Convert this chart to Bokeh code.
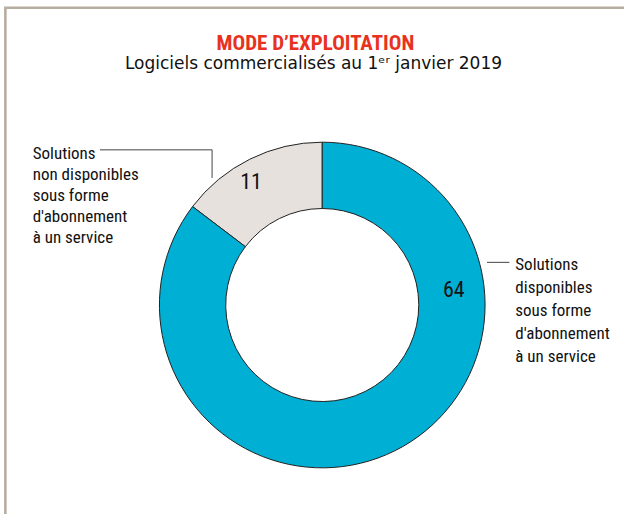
import numpy as np
from bokeh.plotting import figure
from bokeh.models import Range1d, ColumnDataSource
from bokeh.core.properties import value
from bokeh.embed import file_html
from bokeh.resources import INLINE

# ---- data ----
title = "MODE D’EXPLOITATION"
subtitle = "Logiciels commercialisés au 1ᵉʳ janvier 2019"
categories = ["Solutions non disponibles sous forme d'abonnement à un service",
              "Solutions disponibles sous forme d'abonnement à un service"]
values = [11, 64]
colors = ["#e6e1dc", "#00afd4"]
label_left = ["Solutions", "non disponibles", "sous forme", "d'abonnement", "à un service"]
label_right = ["Solutions", "disponibles", "sous forme", "d'abonnement", "à un service"]

# ---- layout (data units = reference-image pixels, y flipped) ----
RW, RH = 640, 530
def Y(y):
    return RH - y

CX, CY = 330, Y(314)
R_IN, R_OUT = 99, 167
NARROW = value("Roboto Condensed, DejaVu Sans Condensed, sans-serif")

p = figure(width=624, height=514,
           x_range=Range1d(0, RW), y_range=Range1d(0, RH),
           output_backend="svg", toolbar_location=None, min_border=0)
p.axis.visible = False
p.grid.visible = False
p.outline_line_color = None
p.background_fill_color = "white"
p.border_fill_color = "white"

# frame border (top + left)
p.line(x=[5, 5, RW + 5], y=[Y(RH + 5), Y(7.5), Y(7.5)], line_color="#b7ada1",
       line_width=2.6, line_join="miter")

# donut
vals = np.array(values, dtype=float)
frac = vals / vals.sum()
ang = 2 * np.pi * frac
starts = np.pi / 2 + np.concatenate([[0], np.cumsum(ang)[:-1]])
ends = starts + ang
src = ColumnDataSource(dict(start=starts, end=ends, color=colors, cat=categories))
p.annular_wedge(x=CX, y=CY, inner_radius=R_IN, outer_radius=R_OUT,
                start_angle="start", end_angle="end", fill_color="color",
                line_color="#222222", line_width=1, source=src)

# value labels
lab_ang = np.radians([119.8, 7.0])
lab_r = [147, 136]
lx = [CX + r * np.cos(a) for r, a in zip(lab_r, lab_ang)]
ly = [CY + r * np.sin(a) for r, a in zip(lab_r, lab_ang)]
p.text(x=lx, y=ly, text=[str(v) for v in values], text_font=NARROW,
       text_font_size="22px", text_align="center", text_baseline="middle",
       text_color="#111111")

# leader lines
p.line(x=[102, 217, 217], y=[Y(154), Y(154), Y(183)], line_color="#444444", line_width=1)
p.line(x=[499, 522], y=[Y(270), Y(270)], line_color="#444444", line_width=1)

# category labels
p.text(x=[33] * 5, y=[Y(157 + 21.7 * i) for i in range(5)], text=label_left,
       text_font=NARROW, text_font_size="17px", text_align="left",
       text_baseline="alphabetic", text_color="#111111")
p.text(x=[528] * 5, y=[Y(272 + 23.7 * i) for i in range(5)], text=label_right,
       text_font=NARROW, text_font_size="17px", text_align="left",
       text_baseline="alphabetic", text_color="#111111")

# titles
p.text(x=[323], y=[Y(44)], text=[title], text_font=NARROW, text_font_style="bold",
       text_font_size="21px", text_align="center", text_baseline="alphabetic",
       text_color="#e8321e")
p.text(x=[321], y=[Y(64)], text=[subtitle], text_font=value("DejaVu Sans"),
       text_font_size="17px", text_align="center", text_baseline="alphabetic",
       text_color="#111111")

open("out.html", "w").write(file_html(p, INLINE))
